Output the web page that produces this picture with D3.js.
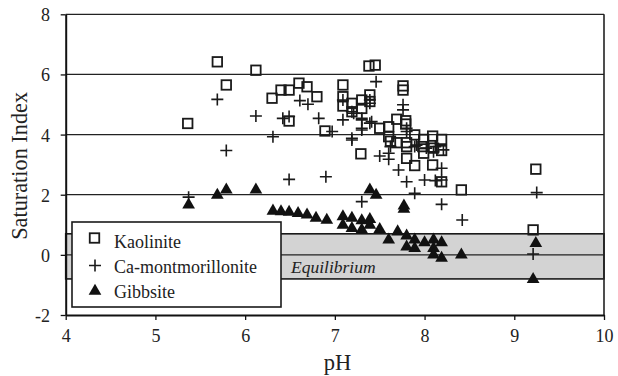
<!DOCTYPE html>
<html><head><meta charset="utf-8">
<script src="https://cdn.jsdelivr.net/npm/d3@7"></script>
<style>body{margin:0;background:#fff}svg{display:block}</style>
</head><body><svg id="c" width="618" height="376" font-family="Liberation Serif"></svg>
<script>
const xTicks=[4,5,6,7,8,9,10];
const yTicks=[-2,0,2,4,6,8];
const equilibriumBand=[-0.8,0.7];
const seriesNames=["Kaolinite","Ca-montmorillonite","Gibbsite"];
const kaolinite=[[5.36,4.37],[5.69,6.42],[5.79,5.65],[6.12,6.14],[6.30,5.21],[6.40,5.48],[6.49,5.48],[6.49,4.45],[6.60,5.71],[6.69,5.59],[6.80,5.26],[6.89,4.12],[7.09,5.65],[7.09,5.26],[7.09,4.95],[7.38,6.28],[7.45,6.31],[7.19,5.04],[7.19,4.76],[7.30,5.15],[7.30,4.87],[7.39,5.32],[7.39,5.10],[7.76,5.62],[7.76,5.48],[7.29,3.36],[7.50,4.21],[7.60,4.26],[7.60,3.93],[7.69,4.51],[7.69,3.73],[7.79,4.46],[7.79,4.35],[7.80,3.73],[7.89,3.99],[7.80,3.21],[7.89,2.97],[7.99,3.84],[7.99,3.38],[8.09,3.95],[8.09,2.99],[8.19,3.84],[8.19,3.47],[8.19,2.43],[8.41,2.16],[9.24,2.85],[9.21,0.83],[7.80,3.60],[8.10,3.55],[7.98,3.60],[7.62,3.78]];
const caMontmorillonite=[[5.37,1.92],[5.69,5.17],[5.79,3.47],[6.12,4.62],[6.31,3.93],[6.42,4.54],[6.49,4.60],[6.49,2.51],[6.61,5.13],[6.70,5.01],[6.82,4.54],[6.90,2.60],[7.46,5.76],[7.09,5.15],[7.09,4.49],[7.19,4.76],[7.19,3.88],[7.30,4.49],[7.30,4.21],[7.39,5.15],[7.39,4.38],[7.50,3.29],[7.60,3.38],[7.60,3.18],[7.76,4.99],[7.76,4.82],[7.80,4.10],[7.71,2.82],[7.80,2.43],[7.91,3.65],[8.00,2.49],[8.10,3.43],[8.19,2.88],[8.19,2.49],[7.89,2.05],[7.30,1.77],[8.19,1.68],[8.42,1.16],[9.25,2.07],[9.21,0.03],[8.12,2.47],[7.21,4.71],[7.30,4.54],[7.30,4.15],[7.41,4.43],[7.39,5.04],[7.80,4.21],[6.97,4.10],[7.62,3.60],[7.89,3.60],[8.02,3.55],[8.12,3.60],[8.21,3.49],[7.19,3.82]];
const gibbsite=[[5.37,1.66],[5.69,1.99],[5.79,2.16],[6.12,2.16],[6.31,1.46],[6.40,1.44],[6.49,1.42],[6.59,1.38],[6.69,1.33],[6.79,1.22],[6.91,1.16],[7.09,1.27],[7.09,0.99],[7.39,2.16],[7.46,1.99],[7.77,1.63],[7.77,1.52],[7.19,1.22],[7.19,0.88],[7.30,1.14],[7.30,0.83],[7.39,1.18],[7.39,0.99],[7.50,0.85],[7.60,0.50],[7.70,0.77],[7.80,0.63],[7.80,0.27],[7.89,0.50],[7.89,0.22],[8.00,0.41],[8.10,0.50],[8.10,0.22],[8.10,0.0],[8.19,0.41],[8.19,-0.11],[8.41,0.0],[9.24,0.38],[9.21,-0.81]];

const FONT="Liberation Serif";
const svg=d3.select("#c");
const L=65.7,R=604,T=14.3,B=315;
const x=d3.scaleLinear().domain([4,10]).range([L,R]);
const y=d3.scaleLinear().domain([-2,8]).range([B,T]);

svg.append("g").selectAll("line").data(yTicks.filter(v=>v>-2&&v!==0)).join("line")
 .attr("x1",L).attr("x2",R).attr("y1",d=>y(d)).attr("y2",d=>y(d)).attr("stroke","#222").attr("stroke-width",1.2);

svg.append("rect").attr("x",L).attr("width",R-L).attr("y",y(equilibriumBand[1])).attr("height",y(equilibriumBand[0])-y(equilibriumBand[1]))
 .attr("fill","#d3d3d3").attr("stroke","#1a1a1a").attr("stroke-width",1.6);
svg.append("line").attr("x1",L).attr("x2",R).attr("y1",y(0)).attr("y2",y(0)).attr("stroke","#222").attr("stroke-width",1.2);
svg.append("text").attr("x",291).attr("y",y(0)+18).attr("font-family",FONT).attr("font-style","italic").attr("font-size",17.5).attr("fill","#222").text("Equilibrium");

svg.append("line").attr("x1",R).attr("x2",R).attr("y1",T).attr("y2",B).attr("stroke","#222").attr("stroke-width",1.6);

const xa=svg.append("g").attr("transform",`translate(0,${B})`).call(d3.axisBottom(x).tickValues(xTicks).tickFormat(d3.format("d")).tickSize(5).tickSizeOuter(0));
const ya=svg.append("g").attr("transform",`translate(${L},0)`).call(d3.axisLeft(y).tickValues(yTicks).tickFormat(d=>d).tickSize(5).tickSizeOuter(0));
[xa,ya].forEach(a=>{a.attr("font-family",FONT);a.select(".domain").attr("stroke","#111").attr("stroke-width",2);a.selectAll(".tick line").attr("stroke","#111").attr("stroke-width",1.3);a.selectAll("text").attr("font-size",18).attr("fill","#222").attr("font-family",FONT);});
xa.selectAll("text").attr("y",8).attr("dy","1.04em");
ya.selectAll("text").attr("x",-15.7).attr("dy","0.36em");

svg.append("text").attr("x",337.5).attr("y",370).attr("text-anchor","middle").attr("font-family",FONT).attr("font-size",22.5).attr("fill","#222").text("pH");
svg.append("text").attr("transform",`translate(27,${y(2.96)}) rotate(-90)`).attr("text-anchor","middle").attr("font-family",FONT).attr("font-size",22.3).attr("fill","#222").text("Saturation Index");

const sq=9.5, tri=d3.symbol().type(d3.symbolTriangle).size(70);
function drawSquares(g,data){g.selectAll("rect").data(data).join("rect").attr("x",d=>x(d[0])-sq/2).attr("y",d=>y(d[1])-sq/2).attr("width",sq).attr("height",sq).attr("fill","none").attr("stroke","#1a1a1a").attr("stroke-width",1.8);}
function drawPlus(g,data){g.selectAll("path").data(data).join("path").attr("d",d=>{const cx=x(d[0]),cy=y(d[1]);return `M${cx-6},${cy}H${cx+6}M${cx},${cy-6}V${cy+6}`;}).attr("stroke","#1a1a1a").attr("stroke-width",1.6).attr("fill","none");}
function drawTri(g,data){g.selectAll("path").data(data).join("path").attr("d",tri).attr("transform",d=>`translate(${x(d[0])},${y(d[1])})`).attr("fill","#111");}
drawSquares(svg.append("g"),kaolinite);
drawPlus(svg.append("g"),caMontmorillonite);
drawTri(svg.append("g"),gibbsite);

const lg=svg.append("g");
lg.append("rect").attr("x",72).attr("y",222).attr("width",209).attr("height",85).attr("fill","#fff").attr("stroke","#1a1a1a").attr("stroke-width",1.6);
const rows=[241.5,267,291.5];
lg.append("rect").attr("x",94.5-sq/2).attr("y",238-sq/2).attr("width",sq).attr("height",sq).attr("fill","none").attr("stroke","#1a1a1a").attr("stroke-width",1.8);
lg.append("path").attr("d",`M89,265.5H101M95,259.5V271.5`).attr("stroke","#1a1a1a").attr("stroke-width",1.6);
lg.append("path").attr("d",tri).attr("transform",`translate(95,291)`).attr("fill","#111");
seriesNames.forEach((n,i)=>lg.append("text").attr("x",114).attr("y",rows[i]).attr("dy","0.35em").attr("font-family",FONT).attr("font-size",18).attr("fill","#222").text(n));
</script></body></html>
